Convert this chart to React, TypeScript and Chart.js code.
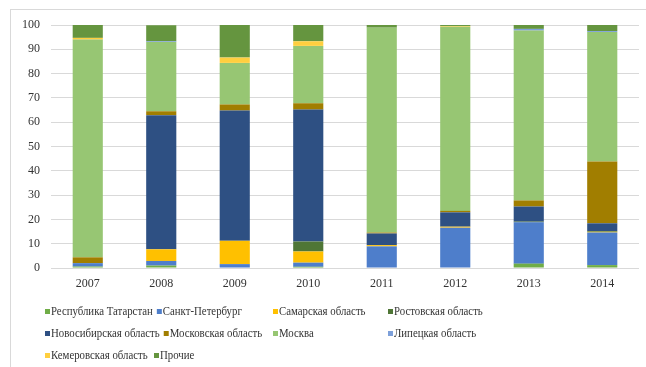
import React, { useEffect, useRef } from "react";
import { Chart, registerables } from "chart.js";

Chart.register(...registerables);

const years = ["2007", "2008", "2009", "2010", "2011", "2012", "2013", "2014"];
const yTicks = [0, 10, 20, 30, 40, 50, 60, 70, 80, 90, 100];

const seriesNames = [
  "Республика Татарстан",
  "Санкт-Петербург",
  "Самарская область",
  "Ростовская область",
  "Новосибирская область",
  "Московская область",
  "Москва",
  "Липецкая область",
  "Кемеровская область",
  "Прочие",
];

const tatarstan = [0.6, 1.0, 0.2, 0.5, 0.2, 0.2, 1.8, 1.2];
const spb = [1.4, 1.9, 1.4, 1.7, 8.7, 16.4, 17.0, 13.4];
const samara = [0, 4.8, 9.6, 4.6, 0.5, 0.4, 0, 0.3];
const rostov = [0, 0, 0, 4.1, 0, 0, 0.3, 0.3];
const novosib = [0, 55.2, 53.6, 54.3, 4.8, 5.9, 6.2, 3.2];
const moscowObl = [2.4, 1.6, 2.5, 2.6, 0.4, 0.6, 2.5, 25.4];
const moscow = [89.6, 28.5, 17.1, 23.6, 84.3, 75.8, 69.9, 53.3];
const lipetsk = [0, 0.3, 0, 0, 0, 0, 0.7, 0.4];
const kemerovo = [0.7, 0, 2.2, 1.9, 0, 0.3, 0, 0];
const other = [5.3, 6.6, 13.4, 6.7, 1.1, 0.4, 1.6, 2.5];

const seriesValues = [tatarstan, spb, samara, rostov, novosib, moscowObl, moscow, lipetsk, kemerovo, other];

const colors = [
  "#70AD47",
  "#4E7ECB",
  "#FFC000",
  "#4F7636",
  "#2E5083",
  "#A17E00",
  "#97C673",
  "#7DA0DA",
  "#FFCF3F",
  "#65953F",
];

const FONT = "'Liberation Serif', 'Times New Roman', serif";
const TEXT = "#333333";

const frameAndLegend = {
  id: "frameAndLegend",
  beforeDraw(chart: any) {
    const ctx = chart.ctx;
    ctx.save();
    ctx.fillStyle = "#ffffff";
    ctx.fillRect(0, 0, chart.width, chart.height);
    ctx.strokeStyle = "#d9d9d9";
    ctx.lineWidth = 1;
    ctx.strokeRect(10.5, 9.5, chart.width + 20, chart.height + 20);
    ctx.restore();
  },
  afterDraw(chart: any) {
    const ctx = chart.ctx;
    const colStarts = [45, 154, 273, 388];
    const rowYs = [312, 334, 356];
    const perRow = 4;
    const sx = 0.9;
    ctx.save();
    ctx.font = `12px ${FONT}`;
    ctx.textBaseline = "middle";
    ctx.textAlign = "left";
    let prevEnd = 0;
    seriesNames.forEach((name, i) => {
      const row = Math.floor(i / perRow);
      const col = i % perRow;
      if (col === 0) prevEnd = 0;
      const x = Math.max(colStarts[col], prevEnd + 4);
      const y = rowYs[row];
      ctx.fillStyle = colors[i];
      ctx.fillRect(x, y - 3, 5, 5);
      ctx.fillStyle = TEXT;
      ctx.save();
      ctx.translate(x + 6, y);
      ctx.scale(sx, 1);
      ctx.fillText(name, 0, 0);
      ctx.restore();
      prevEnd = x + 6 + ctx.measureText(name).width * sx;
    });
    ctx.restore();
  },
};

export default function App() {
  const ref = useRef<HTMLCanvasElement>(null);
  useEffect(() => {
    document.body.style.margin = "0";
    const chart = new Chart(ref.current!, {
      type: "bar",
      data: {
        labels: years,
        datasets: seriesNames.map((name, i) => ({
          label: name,
          data: seriesValues[i],
          backgroundColor: colors[i],
          borderWidth: 0,
          barPercentage: 0.41,
          categoryPercentage: 1,
        })),
      },
      options: {
        responsive: false,
        animation: false,
        layout: { padding: { top: 25, right: 7, left: 0, bottom: 0 } },
        plugins: { legend: { display: false }, tooltip: { enabled: false } },
        scales: {
          x: {
            stacked: true,
            grid: { display: false },
            border: { display: false },
            ticks: { color: TEXT, font: { family: FONT, size: 12 }, padding: 1 },
            afterFit: (s: any) => {
              s.height = 99;
            },
          },
          y: {
            stacked: true,
            min: 0,
            max: 100,
            afterBuildTicks: (s: any) => {
              s.ticks = yTicks.map((v) => ({ value: v }));
            },
            grid: { color: "#d9d9d9", lineWidth: 1, drawTicks: false },
            border: { display: false },
            ticks: { color: TEXT, font: { family: FONT, size: 12 }, padding: 11 },
            afterFit: (s: any) => {
              s.width = 51;
            },
          },
        },
      },
      plugins: [frameAndLegend],
    });
    return () => chart.destroy();
  }, []);
  return <canvas ref={ref} width={646} height={367} style={{ display: "block" }} />;
}
